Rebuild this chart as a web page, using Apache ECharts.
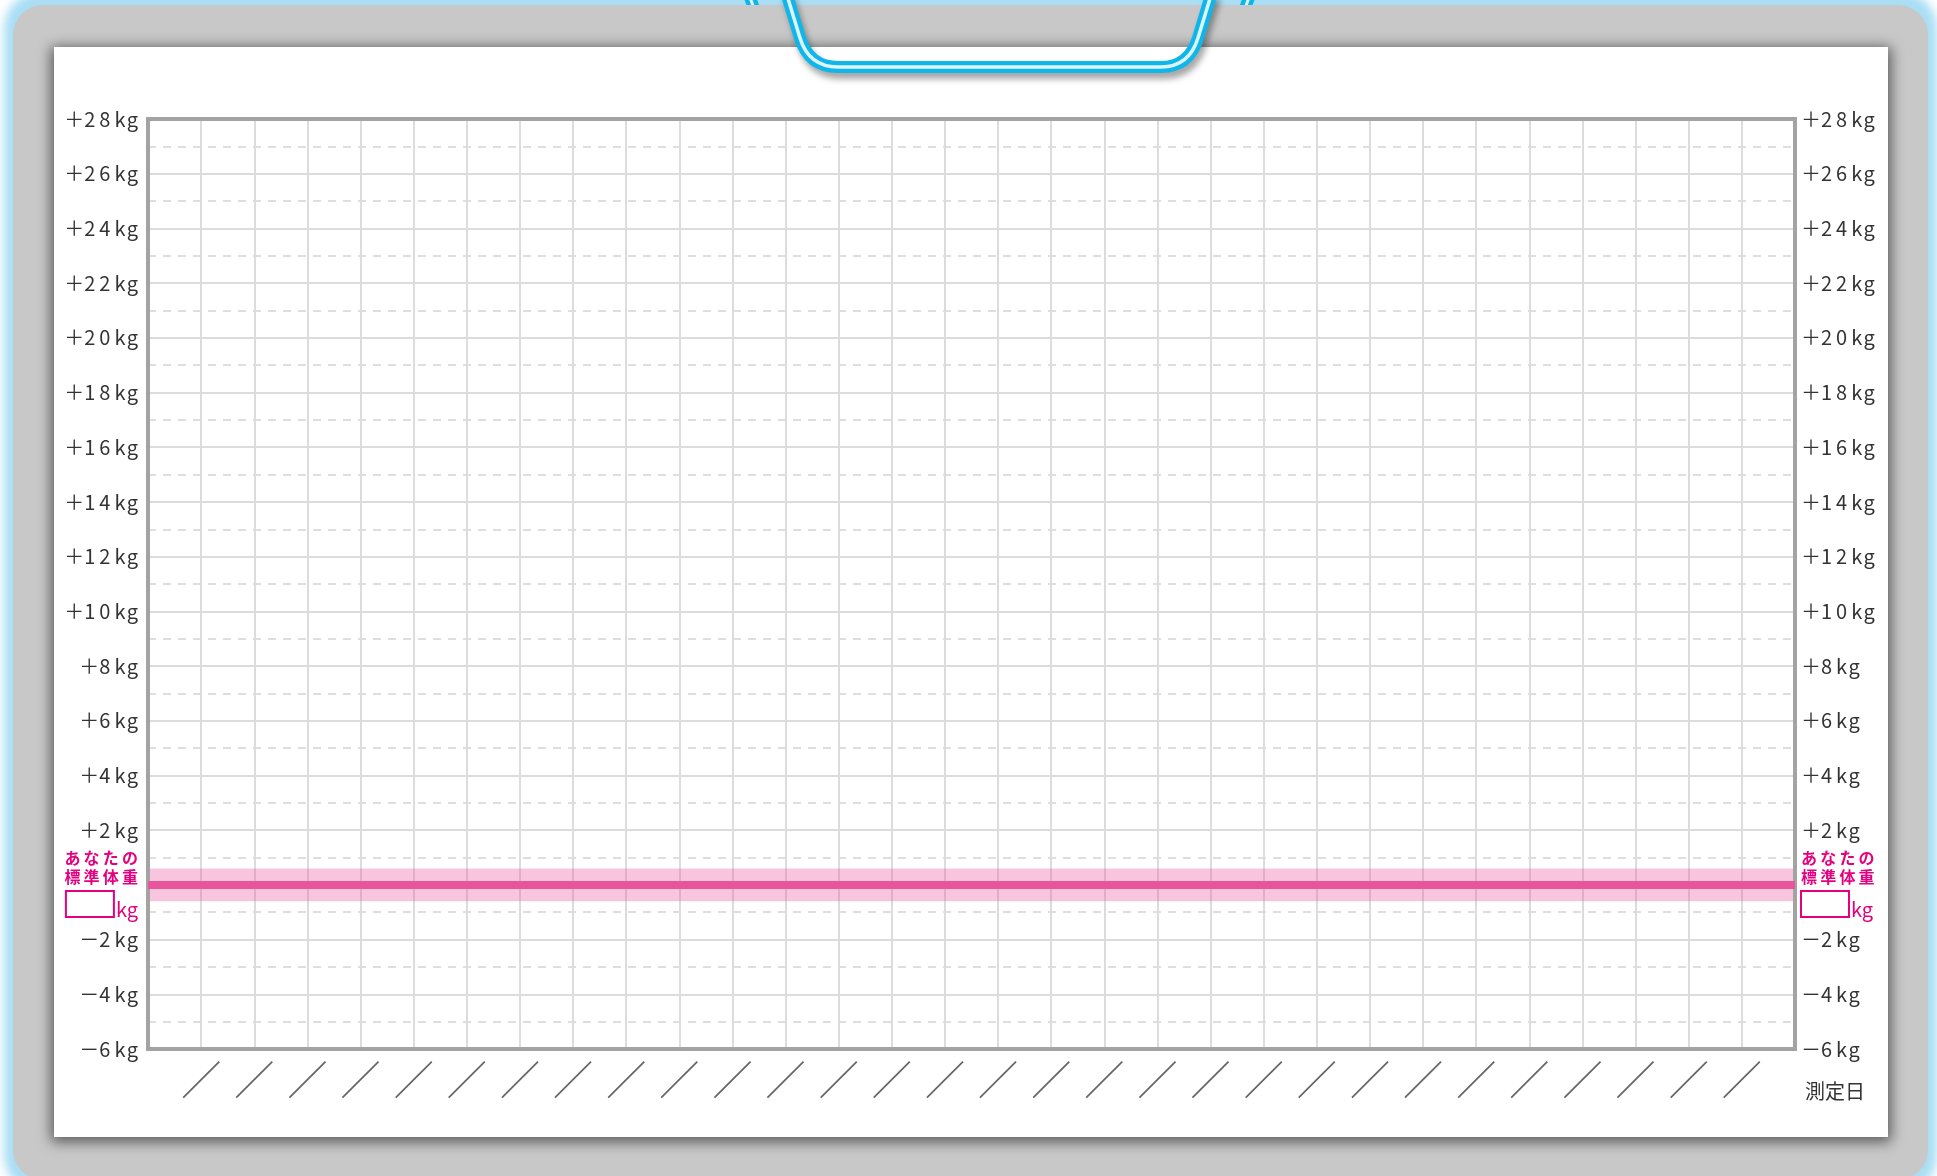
<!DOCTYPE html>
<html>
<head>
<meta charset="utf-8">
<script src="https://cdn.jsdelivr.net/npm/echarts@6/dist/echarts.min.js"></script>
<style>
html,body{margin:0;padding:0;background:#ffffff;}
#wrap{position:relative;width:1937px;height:1176px;overflow:hidden;}
#bg{position:absolute;left:0;top:0;}
#chart{position:absolute;left:0;top:0;width:1937px;height:1176px;}
</style>
</head>
<body>
<div id="wrap">
<svg id="bg" width="1937" height="1176" xmlns="http://www.w3.org/2000/svg">
  <defs>
    <filter id="fGlow" x="-5%" y="-5%" width="110%" height="110%"><feGaussianBlur stdDeviation="5"/></filter>
    <filter id="fPaper" x="-5%" y="-5%" width="110%" height="110%"><feGaussianBlur stdDeviation="7"/></filter>
    <filter id="fClip" x="-10%" y="-60%" width="120%" height="220%"><feGaussianBlur stdDeviation="3"/></filter>
  </defs>
  <rect x="4" y="-8" width="1933" height="1200" rx="36" fill="#a9def4" filter="url(#fGlow)"/>
  <path d="M748,-8 L756,14" stroke="#0fb6ea" stroke-width="12" fill="none"/>
  <path d="M748,-8 L756,14" stroke="#dcf5fd" stroke-width="3" fill="none"/>
  <path d="M1251,-8 L1243,14" stroke="#0fb6ea" stroke-width="12" fill="none"/>
  <path d="M1251,-8 L1243,14" stroke="#dcf5fd" stroke-width="3" fill="none"/>
  <rect x="13" y="5" width="1915" height="1175" rx="30" fill="#c8c8c8"/>
  <rect x="51" y="47" width="1840" height="1095" fill="rgba(0,0,0,0.55)" filter="url(#fPaper)"/>
  <rect x="54" y="47" width="1834" height="1090" fill="#ffffff"/>
  <path d="M786,-8 L800,38 Q809,67 838,67 L1161,67 Q1189,67 1198,38 L1212,-8" transform="translate(3,6)" stroke="rgba(0,0,0,0.35)" stroke-width="12" fill="none" filter="url(#fClip)"/>
  <path d="M786,-8 L800,38 Q809,67 838,67 L1161,67 Q1189,67 1198,38 L1212,-8" stroke="#0fb6ea" stroke-width="12" fill="none" stroke-linecap="round" stroke-linejoin="round"/>
  <path d="M786,-8 L800,38 Q809,67 838,67 L1161,67 Q1189,67 1198,38 L1212,-8" stroke="#dcf5fd" stroke-width="3.5" fill="none" stroke-linejoin="round"/>
</svg>
<div id="chart"></div>
</div>
<script>
// ---- data ----
const yTicks = [-6, -4, -2, 0, 2, 4, 6, 8, 10, 12, 14, 16, 18, 20, 22, 24, 26, 28];
const yTickLabels = ['－6kg', '－4kg', '－2kg', 'あなたの\n標準体重', '＋2kg', '＋4kg', '＋6kg', '＋8kg', '＋10kg', '＋12kg',
  '＋14kg', '＋16kg', '＋18kg', '＋20kg', '＋22kg', '＋24kg', '＋26kg', '＋28kg'];
const stdUnit = 'kg';
const stdWeightLine = 0;          // standard weight (offset 0)
const stdWeightBand = [-0.6, 0.6]; // tolerance band around it
const dateSlots = ['／', '／', '／', '／', '／', '／', '／', '／', '／', '／',
  '／', '／', '／', '／', '／', '／', '／', '／', '／', '／',
  '／', '／', '／', '／', '／', '／', '／', '／', '／', '／'];
const xAxisName = '測定日';

// ---- helpers ----
const PINK = '#e4007f';
const FONT = '"Noto Sans CJK JP", "Noto Sans", sans-serif';
function spaced(s, sp) { return s.split('').join(sp); }
function fmtY(v) {
  const i = yTicks.indexOf(v);
  if (i < 0) return '';
  const s = yTickLabels[i];
  if (v === stdWeightLine) {
    const lines = s.split('\n');
    return '{j|' + spaced(lines[0], '\u2009') + '}\n{j|' + spaced(lines[1], '\u2009') + '}\n{box|}{u|' + stdUnit + '}';
  }
  const num = s.slice(1, -2);
  return s.charAt(0) + spaced(num, '\u2009') + '\u2009k\u200Ag';
}
function fmtX(v) {
  const i = Math.round(v) - 1;
  return (i >= 0 && i < dateSlots.length) ? dateSlots[i] : '';
}
const stdRich = {
  j: { color: PINK, fontSize: 16, lineHeight: 19, fontWeight: 'bold', fontFamily: FONT },
  box: { width: 48, height: 26, borderColor: PINK, borderWidth: 2, lineHeight: 34 },
  u: { color: PINK, fontSize: 20, lineHeight: 34, verticalAlign: 'bottom', padding: [0, 0, 1, 2], fontFamily: FONT }
};
function yAxisOpt(pos, margin) {
  return {
    type: 'value', position: pos, min: -6, max: 28, interval: 2,
    axisLine: { show: false, onZero: false }, axisTick: { show: false },
    axisLabel: { show: true, margin: margin, color: '#333', fontSize: 20, fontFamily: FONT, formatter: fmtY, rich: stdRich },
    splitLine: { show: pos === 'left', showMinLine: false, showMaxLine: false, lineStyle: { color: '#dcdcdc', width: 2 } },
    minorTick: { show: false, splitNumber: 2 },
    minorSplitLine: { show: pos === 'left', lineStyle: { color: '#dedede', width: 2, type: [8, 7] } }
  };
}

const chart = echarts.init(document.getElementById('chart'), null, { renderer: 'canvas' });
chart.setOption({
  animation: false,
  backgroundColor: 'transparent',
  grid: { left: 148, top: 119, width: 1647, height: 930, show: true, backgroundColor: 'transparent', borderColor: '#a3a3a3', borderWidth: 4, z: 3 },
  xAxis: {
    type: 'value', min: 0, max: 31, interval: 1, position: 'bottom',
    name: '\n\n' + xAxisName, nameLocation: 'end', nameGap: 10, nameMoveOverlap: false,
    nameTextStyle: { color: '#333', fontSize: 20, lineHeight: 42, fontFamily: FONT, align: 'left', verticalAlign: 'middle' },
    axisLine: { show: false, onZero: false }, axisTick: { show: false },
    axisLabel: { formatter: fmtX, color: '#666', fontSize: 40, fontFamily: FONT, margin: 31, align: 'center', verticalAlign: 'middle', showMinLabel: false, showMaxLabel: false },
    splitLine: { show: true, showMinLine: false, showMaxLine: false, lineStyle: { color: '#dcdcdc', width: 2 } }
  },
  yAxis: [yAxisOpt('left', 10), yAxisOpt('right', 6)],
  series: [{
    type: 'line', data: [], silent: true,
    markArea: { silent: true, itemStyle: { color: 'rgba(236,90,160,0.35)' }, data: [[{ yAxis: stdWeightBand[0] }, { yAxis: stdWeightBand[1] }]] },
    markLine: { silent: true, symbol: ['none', 'none'], label: { show: false }, lineStyle: { color: '#e8559b', width: 8, type: 'solid' }, data: [{ yAxis: stdWeightLine }] }
  }]
});
</script>
</body>
</html>
